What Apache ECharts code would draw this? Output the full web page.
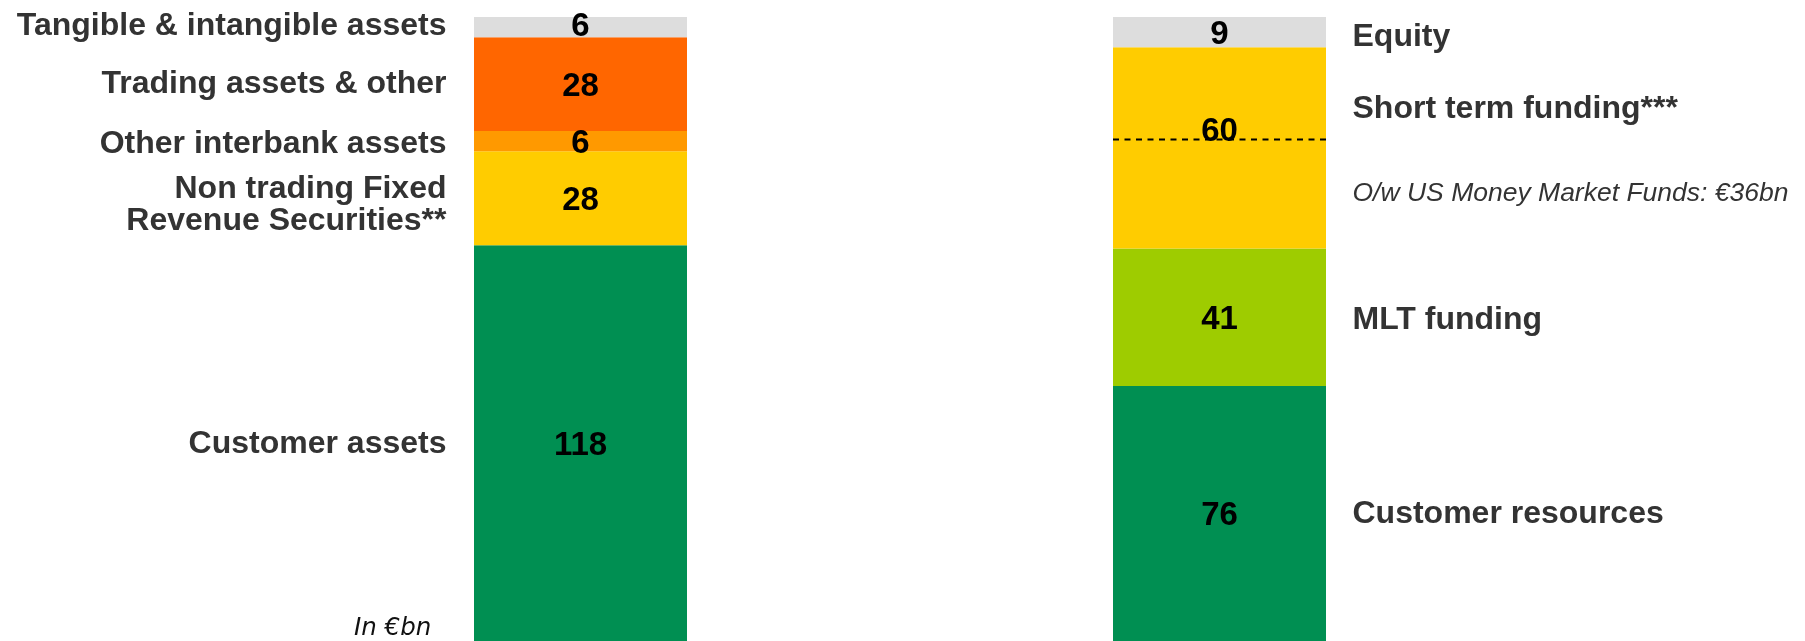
<!DOCTYPE html>
<html>
<head>
<meta charset="utf-8">
<title>Balance sheet structure</title>
<script src="https://cdn.jsdelivr.net/npm/echarts@6/dist/echarts.min.js"></script>
<style>
  html, body { margin: 0; padding: 0; background: #ffffff; }
  #chart { width: 1805px; height: 641px; }
</style>
</head>
<body>
<div id="chart"></div>
<script>
// Two stacked columns: assets (left) and liabilities (right), in €bn, listed bottom-up.
const categories = ['Assets', 'Liabilities'];

const assetNames = [
  'Customer assets',
  'Non trading Fixed\nRevenue Securities**',
  'Other interbank assets',
  'Trading assets & other',
  'Tangible & intangible assets'
];
const assetValues = [118, 28, 6, 28, 6];

const liabilityNames = [
  'Customer resources',
  'MLT funding',
  'Short term funding***',
  'Equity'
];
const liabilityValues = [76, 41, 60, 9];

// Share of short term funding sitting below the dashed divider
const moneyMarketNote = 'O/w US Money Market Funds: €36bn';
const shortTermDividerFromBase = 32.5;

const unitNote = 'In €bn';

// ---- styling ----
const assetColors = ['#008f52', '#ffcc00', '#ff9900', '#ff6600', '#dddddd'];
const liabilityColors = ['#008f52', '#9ecc00', '#ffcc00', '#dddddd'];
const FONT = "'Liberation Sans', Arial, Helvetica, sans-serif";
const BAR_WIDTH = 213;
const NAME_COLOR = '#333333';

// vertical nudges (px) for labels, keyed by segment index
const BASE_NUDGE = 2.5;
const assetValueNudge = { 4: -3 };
const liabilityValueNudge = { 2: -18 };
const assetNameNudge = { 0: -1, 1: 5, 2: 1, 3: -2.5, 4: -3 };
const liabilityNameNudge = { 0: -2, 1: 0, 2: -41, 3: 2.5 };
const noteNudge = 46;

const total = Math.max(
  assetValues.reduce((a, b) => a + b, 0),
  liabilityValues.reduce((a, b) => a + b, 0)
);

function midpoints(values) {
  const out = [];
  let base = 0;
  values.forEach(v => { out.push(base + v / 2); base += v; });
  return out;
}
const assetMids = midpoints(assetValues);
const liabilityMids = midpoints(liabilityValues);

function valueLabel(nudge) {
  return {
    show: true,
    position: 'inside',
    color: '#000000',
    fontFamily: FONT,
    fontWeight: 'bold',
    fontSize: 33,
    offset: [0, (nudge || 0) + BASE_NUDGE],
    formatter: p => String(p.value)
  };
}

const series = [];

assetValues.forEach((v, i) => {
  series.push({
    type: 'bar',
    name: assetNames[i],
    stack: 'sheet',
    barWidth: BAR_WIDTH,
    data: [v, '-'],
    itemStyle: { color: assetColors[i] },
    label: valueLabel(assetValueNudge[i]),
    silent: true
  });
});

liabilityValues.forEach((v, i) => {
  series.push({
    type: 'bar',
    name: liabilityNames[i],
    stack: 'sheet',
    barWidth: BAR_WIDTH,
    data: ['-', v],
    itemStyle: { color: liabilityColors[i] },
    label: valueLabel(liabilityValueNudge[i]),
    silent: true
  });
});

// Segment names beside each column
const nameItems = [];
assetNames.forEach((n, i) => {
  nameItems.push({
    value: [0, assetMids[i]],
    label: {
      formatter: n,
      position: 'left',
      distance: 134,
      offset: [0, (assetNameNudge[i] || 0) + BASE_NUDGE]
    }
  });
});
liabilityNames.forEach((n, i) => {
  nameItems.push({
    value: [1, liabilityMids[i]],
    label: {
      formatter: n,
      position: 'right',
      distance: 133,
      offset: [0, (liabilityNameNudge[i] || 0) + BASE_NUDGE]
    }
  });
});
const shortTermIndex = 2;
nameItems.push({
  value: [1, liabilityMids[shortTermIndex]],
  label: {
    formatter: moneyMarketNote,
    position: 'right',
    distance: 133,
    offset: [0, noteNudge],
    fontStyle: 'italic',
    fontWeight: 'normal',
    fontSize: 26.5
  }
});

series.push({
  type: 'scatter',
  name: 'names',
  symbolSize: 0,
  silent: true,
  z: 5,
  itemStyle: { opacity: 1 },
  data: nameItems,
  label: {
    show: true,
    color: NAME_COLOR,
    fontFamily: FONT,
    fontWeight: 'bold',
    fontSize: 32,
    lineHeight: 32
  }
});

// Dashed divider across the short term funding block
const dividerLevel = liabilityValues[0] + liabilityValues[1] + shortTermDividerFromBase;
series.push({
  type: 'custom',
  name: 'divider',
  silent: true,
  z: 4,
  data: [[1, dividerLevel]],
  renderItem: function (params, api) {
    const pt = api.coord([api.value(0), api.value(1)]);
    return {
      type: 'line',
      shape: { x1: pt[0] - BAR_WIDTH / 2, y1: pt[1], x2: pt[0] + BAR_WIDTH / 2, y2: pt[1] },
      style: { stroke: '#000000', lineWidth: 2, lineDash: [6, 5.5] }
    };
  }
});

const chart = echarts.init(document.getElementById('chart'), null, { renderer: 'canvas' });
chart.setOption({
  animation: false,
  backgroundColor: '#ffffff',
  grid: { left: 261, width: 1278, top: 17, bottom: 0, containLabel: false },
  xAxis: { type: 'category', data: categories, show: false },
  yAxis: { type: 'value', min: 0, max: total, show: false },
  series: series,
  graphic: [{
    type: 'text',
    x: 354,
    y: 629,
    style: {
      text: unitNote,
      fill: '#111111',
      font: "italic 24.5px 'DejaVu Sans', sans-serif",
      align: 'left',
      verticalAlign: 'middle'
    }
  }]
});
</script>
</body>
</html>
